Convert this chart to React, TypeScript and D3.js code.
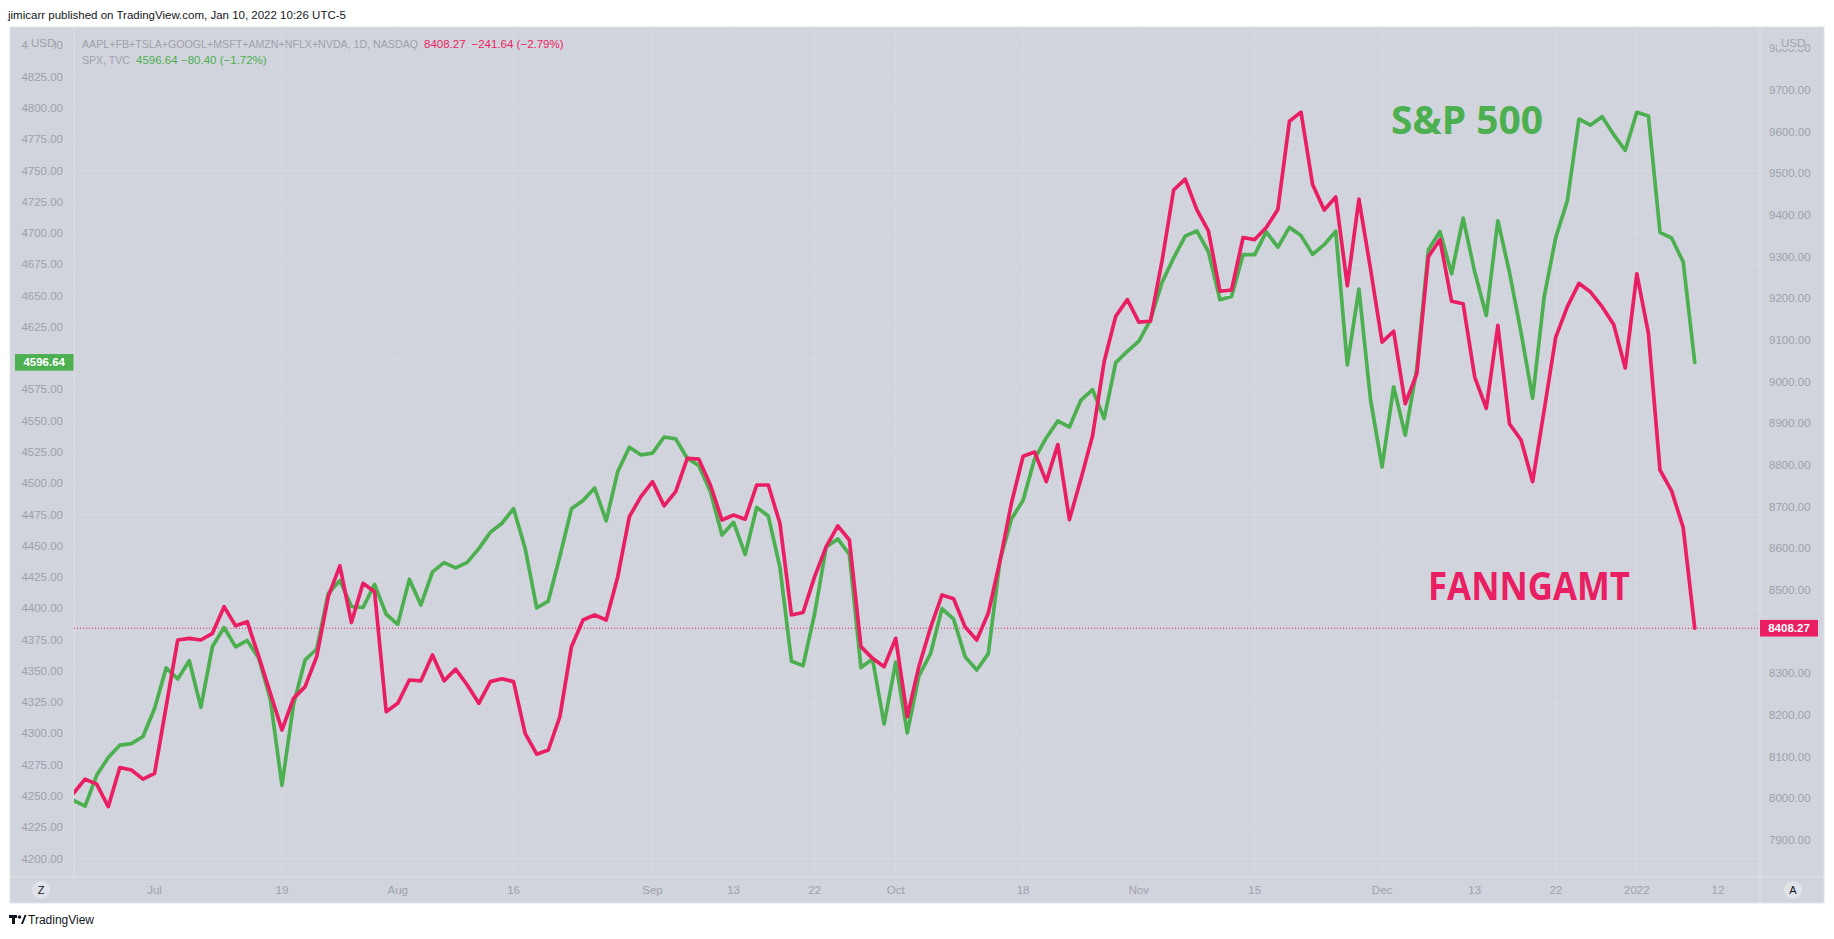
import * as d3 from 'd3'

// one value per trading day, Jun 22 2021 .. Jan 10 2022 (141 sessions)
const spx = [
  4246.44, 4241.84, 4266.49, 4280.7, 4290.61, 4291.8, 4297.5,
  4319.94, 4352.34, 4343.54, 4358.13, 4320.82, 4369.55, 4384.63, 4369.21, 4374.3, 4360.03, 4327.16,
  4258.49, 4323.06, 4358.69, 4367.48, 4411.79, 4422.3, 4401.46, 4400.64, 4419.15, 4395.26,
  4387.16, 4423.15, 4402.66, 4429.1, 4436.52, 4432.35, 4436.75, 4447.7, 4460.83, 4468.0,
  4479.71, 4448.08, 4400.27, 4405.8, 4441.67, 4479.53, 4486.23, 4496.19, 4470.0, 4509.37, 4528.79, 4522.68,
  4524.09, 4536.95, 4535.43, 4520.03, 4514.07, 4493.28, 4458.58, 4468.73, 4443.05, 4480.7, 4473.75, 4432.99,
  4357.73, 4354.19, 4395.64, 4448.98, 4455.48, 4443.11, 4352.63, 4359.46, 4307.54,
  4357.04, 4300.46, 4345.72, 4363.55, 4399.76, 4391.34, 4361.19, 4350.65, 4363.8, 4438.26, 4471.37,
  4486.46, 4519.63, 4536.19, 4549.78, 4544.9, 4566.48, 4574.79, 4551.68, 4596.42, 4605.38,
  4613.67, 4630.65, 4660.57, 4680.06, 4697.53, 4701.7, 4685.25, 4646.71, 4649.27, 4682.85,
  4682.8, 4700.9, 4688.67, 4704.54, 4697.96, 4682.94, 4690.7, 4701.46, 4594.62, 4655.27, 4567.0,
  4513.04, 4577.1, 4538.43, 4591.67, 4686.75, 4701.21, 4667.45, 4712.02,
  4668.97, 4634.09, 4709.85, 4668.67, 4620.64, 4568.02, 4649.23, 4696.56, 4725.79,
  4791.19, 4786.35, 4793.06, 4778.73, 4766.18,
  4796.56, 4793.54, 4700.58, 4696.05, 4677.03, 4596.64,
]

const fanngamt = [
  8012, 8046, 8034, 7980, 8074, 8068, 8046,
  8060, 8220, 8380, 8384, 8380, 8396, 8460, 8414, 8424, 8340, 8252,
  8164, 8240, 8268, 8340, 8484, 8558, 8422, 8516, 8496, 8208,
  8228, 8284, 8282, 8344, 8282, 8310, 8272, 8228, 8280, 8287,
  8280, 8156, 8106, 8116, 8196, 8364, 8428, 8440, 8428, 8532, 8676, 8724,
  8760, 8702, 8736, 8816, 8814, 8752, 8668, 8680, 8670, 8752, 8752, 8660,
  8440, 8446, 8532, 8604, 8654, 8620, 8364, 8336, 8316,
  8384, 8196, 8316, 8409, 8488, 8479, 8411, 8380, 8445, 8569, 8709,
  8821, 8831, 8760, 8849, 8669, 8767, 8870, 9048, 9157, 9197,
  9143, 9145, 9290, 9460, 9486, 9413, 9362, 9217, 9220, 9346,
  9341, 9370, 9413, 9625, 9647, 9473, 9412, 9443, 9230, 9438, 9271,
  9095, 9121, 8947, 9019, 9300, 9341, 9193, 9187,
  9011, 8936, 9135, 8899, 8860, 8760, 8932, 9107, 9180,
  9236, 9215, 9180, 9137, 9033,
  9259, 9116, 8788, 8738, 8649.91, 8408.27,
]

const leftTicks = [4200, 4225, 4250, 4275, 4300, 4325, 4350, 4375, 4400, 4425, 4450, 4475, 4500, 4525,
  4550, 4575, 4600, 4625, 4650, 4675, 4700, 4725, 4750, 4775, 4800, 4825, 4850]
const rightTicks = [7900, 8000, 8100, 8200, 8300, 8400, 8500, 8600, 8700, 8800, 8900, 9000,
  9100, 9200, 9300, 9400, 9500, 9600, 9700, 9800]

// session index of each time-axis label
const timeTickIdx = [7, 18, 28, 38, 50, 57, 64, 71, 82, 92, 102, 113, 121, 128, 135, 142]
const timeTickLabels = ['Jul', '19', 'Aug', '16', 'Sep', '13', '22', 'Oct', '18', 'Nov', '15', 'Dec', '13', '22', '2022', '12']

const GREEN = '#4caf50'
const RED = '#e91e63'
const BG = '#d1d4dc'
const AXIS_TEXT = '#9ea1aa'
const FONT = '"Liberation Sans", Arial, sans-serif'

export default function App() {
  const W = 1834
  const H = 939
  const plot = { left: 74, right: 1760, top: 27, bottom: 877 }

  const x = d3.scaleLinear().domain([0, 142]).range([73.5, 1717.9])
  const yL = d3.scaleLinear().domain([4200, 4825]).range([858.5, 76.7])
  const yR = d3.scaleLinear().domain([7900, 9700]).range([840, 90])

  const lineL = d3.line<number>().x((_, i) => x(i)).y((d) => yL(d))
  const lineR = d3.line<number>().x((_, i) => x(i)).y((d) => yR(d))

  const lastL = spx[spx.length - 1]
  const lastR = fanngamt[fanngamt.length - 1]

  // tick labels hidden behind the last-value badges, as in the original
  const leftShown = leftTicks.filter((t) => Math.abs(yL(t) - yL(lastL)) > 13)
  const rightShown = rightTicks.filter((t) => Math.abs(yR(t) - yR(lastR)) > 13)

  return (
    <svg width={W} height={H} style={{ position: 'absolute', left: 0, top: 0, background: '#fff' }} fontFamily={FONT}>
      <defs>
        <clipPath id="plotClip">
          <rect x={plot.left} y={plot.top} width={plot.right - plot.left} height={plot.bottom - plot.top} />
        </clipPath>
      </defs>

      <text x={8} y={15} dominantBaseline="central" fontSize={11.5} fill="#131722">
        jimicarr published on TradingView.com, Jan 10, 2022 10:26 UTC-5
      </text>

      {/* panel */}
      <rect x={10} y={27} width={1814} height={876} fill={BG} stroke="#e0e3eb" />

      {/* grid */}
      <g stroke="#ffffff" strokeOpacity={0.14}>
        {timeTickIdx.map((t) => (
          <line key={'gx' + t} x1={x(t)} x2={x(t)} y1={plot.top} y2={plot.bottom} />
        ))}
        {leftTicks.map((t) => (
          <line key={'gy' + t} x1={plot.left} x2={plot.right} y1={yL(t)} y2={yL(t)} />
        ))}
      </g>
      <g stroke="#ffffff" strokeOpacity={0.3}>
        <line x1={plot.left} x2={plot.left} y1={plot.top} y2={plot.bottom} />
        <line x1={plot.right} x2={plot.right} y1={plot.top} y2={903} />
        <line x1={10} x2={1824} y1={plot.bottom} y2={plot.bottom} />
      </g>

      {/* left axis */}
      <g fontSize={11.5} fill={AXIS_TEXT} textAnchor="end">
        {leftShown.map((t) => (
          <text key={'l' + t} x={63} y={yL(t)} dominantBaseline="central">{t.toFixed(2)}</text>
        ))}
      </g>
      <rect x={28} y={36} width={26} height={15} fill={BG} />
      <text x={31} y={43} dominantBaseline="central" fontSize={11.5} fill={AXIS_TEXT}>USD</text>

      {/* right axis */}
      <g fontSize={11.5} fill={AXIS_TEXT}>
        {rightShown.map((t) => (
          <text key={'r' + t} x={1769} y={yR(t)} dominantBaseline="central">{t.toFixed(2)}</text>
        ))}
      </g>
      <rect x={1777} y={35} width={27} height={14} fill={BG} />
      <text x={1781} y={42.5} dominantBaseline="central" fontSize={11.5} fill={AXIS_TEXT}>USD</text>

      {/* time axis */}
      <g fontSize={11.5} fill={AXIS_TEXT} textAnchor="middle">
        {timeTickIdx.map((t, i) => (
          <text key={'t' + t} x={x(t)} y={890} dominantBaseline="central">{timeTickLabels[i]}</text>
        ))}
      </g>
      <circle cx={41} cy={890} r={9} fill="#dfe2e9" />
      <text x={41} y={890} dominantBaseline="central" textAnchor="middle" fontSize={11} fill="#131722">Z</text>
      <circle cx={1793} cy={890} r={9} fill="#dfe2e9" />
      <text x={1793} y={890} dominantBaseline="central" textAnchor="middle" fontSize={11} fill="#131722">A</text>

      {/* price line of the last FANNGAMT value */}
      <line x1={plot.left} x2={plot.right} y1={yR(lastR)} y2={yR(lastR)} stroke={RED} strokeWidth={1} strokeDasharray="1 2" />

      <g clipPath="url(#plotClip)" fill="none" strokeWidth={3.7} strokeLinejoin="round" strokeLinecap="round">
        <path d={lineL(spx) ?? ''} stroke={GREEN} />
        <path d={lineR(fanngamt) ?? ''} stroke={RED} />
      </g>

      {/* last value badges */}
      <rect x={15} y={yL(lastL) - 8.3} width={58.5} height={16.6} fill={GREEN} />
      <text x={44.2} y={yL(lastL)} dominantBaseline="central" textAnchor="middle" fontSize={11.5} fontWeight="bold" fill="#fff">
        {lastL.toFixed(2)}
      </text>
      <rect x={1760} y={yR(lastR) - 8.3} width={58} height={16.6} fill={RED} />
      <text x={1789} y={yR(lastR)} dominantBaseline="central" textAnchor="middle" fontSize={11.5} fontWeight="bold" fill="#fff">
        {lastR.toFixed(2)}
      </text>

      {/* legend */}
      <g dominantBaseline="central" fontSize={11.5}>
        <text x={82} y={44} fill={AXIS_TEXT} fontSize={11} textLength={336} lengthAdjust="spacingAndGlyphs">
          AAPL+FB+TSLA+GOOGL+MSFT+AMZN+NFLX+NVDA, 1D, NASDAQ
        </text>
        <text x={424} y={44} fill={RED}>8408.27</text>
        <text x={471.5} y={44} fill={RED}>−241.64 (−2.79%)</text>
        <text x={82} y={60} fill={AXIS_TEXT} fontSize={11} textLength={48} lengthAdjust="spacingAndGlyphs">SPX, TVC</text>
        <text x={136} y={60} fill={GREEN}>4596.64</text>
        <text x={181} y={60} fill={GREEN}>−80.40 (−1.72%)</text>
      </g>

      {/* annotations */}
      <text x={1391} y={133.5} fill={GREEN} fontFamily='"Open Sans", sans-serif' fontWeight={700} fontSize={39}
        textLength={152} lengthAdjust="spacingAndGlyphs">S&amp;P 500</text>
      <text x={1428} y={600} fill={RED} fontFamily='"Open Sans", sans-serif' fontWeight={700} fontSize={39}
        textLength={202} lengthAdjust="spacingAndGlyphs">FANNGAMT</text>

      {/* footer logo */}
      <g fill="#131722">
        <rect x={9} y={915} width={8} height={3} />
        <rect x={12} y={915} width={3} height={9} />
        <circle cx={19.5} cy={917} r={1.8} />
        <path d="M21 924 L24.5 915 L26.5 915 L23 924 Z" />
      </g>
      <text x={28} y={920} dominantBaseline="central" fontSize={12} fill="#131722">TradingView</text>
    </svg>
  )
}
